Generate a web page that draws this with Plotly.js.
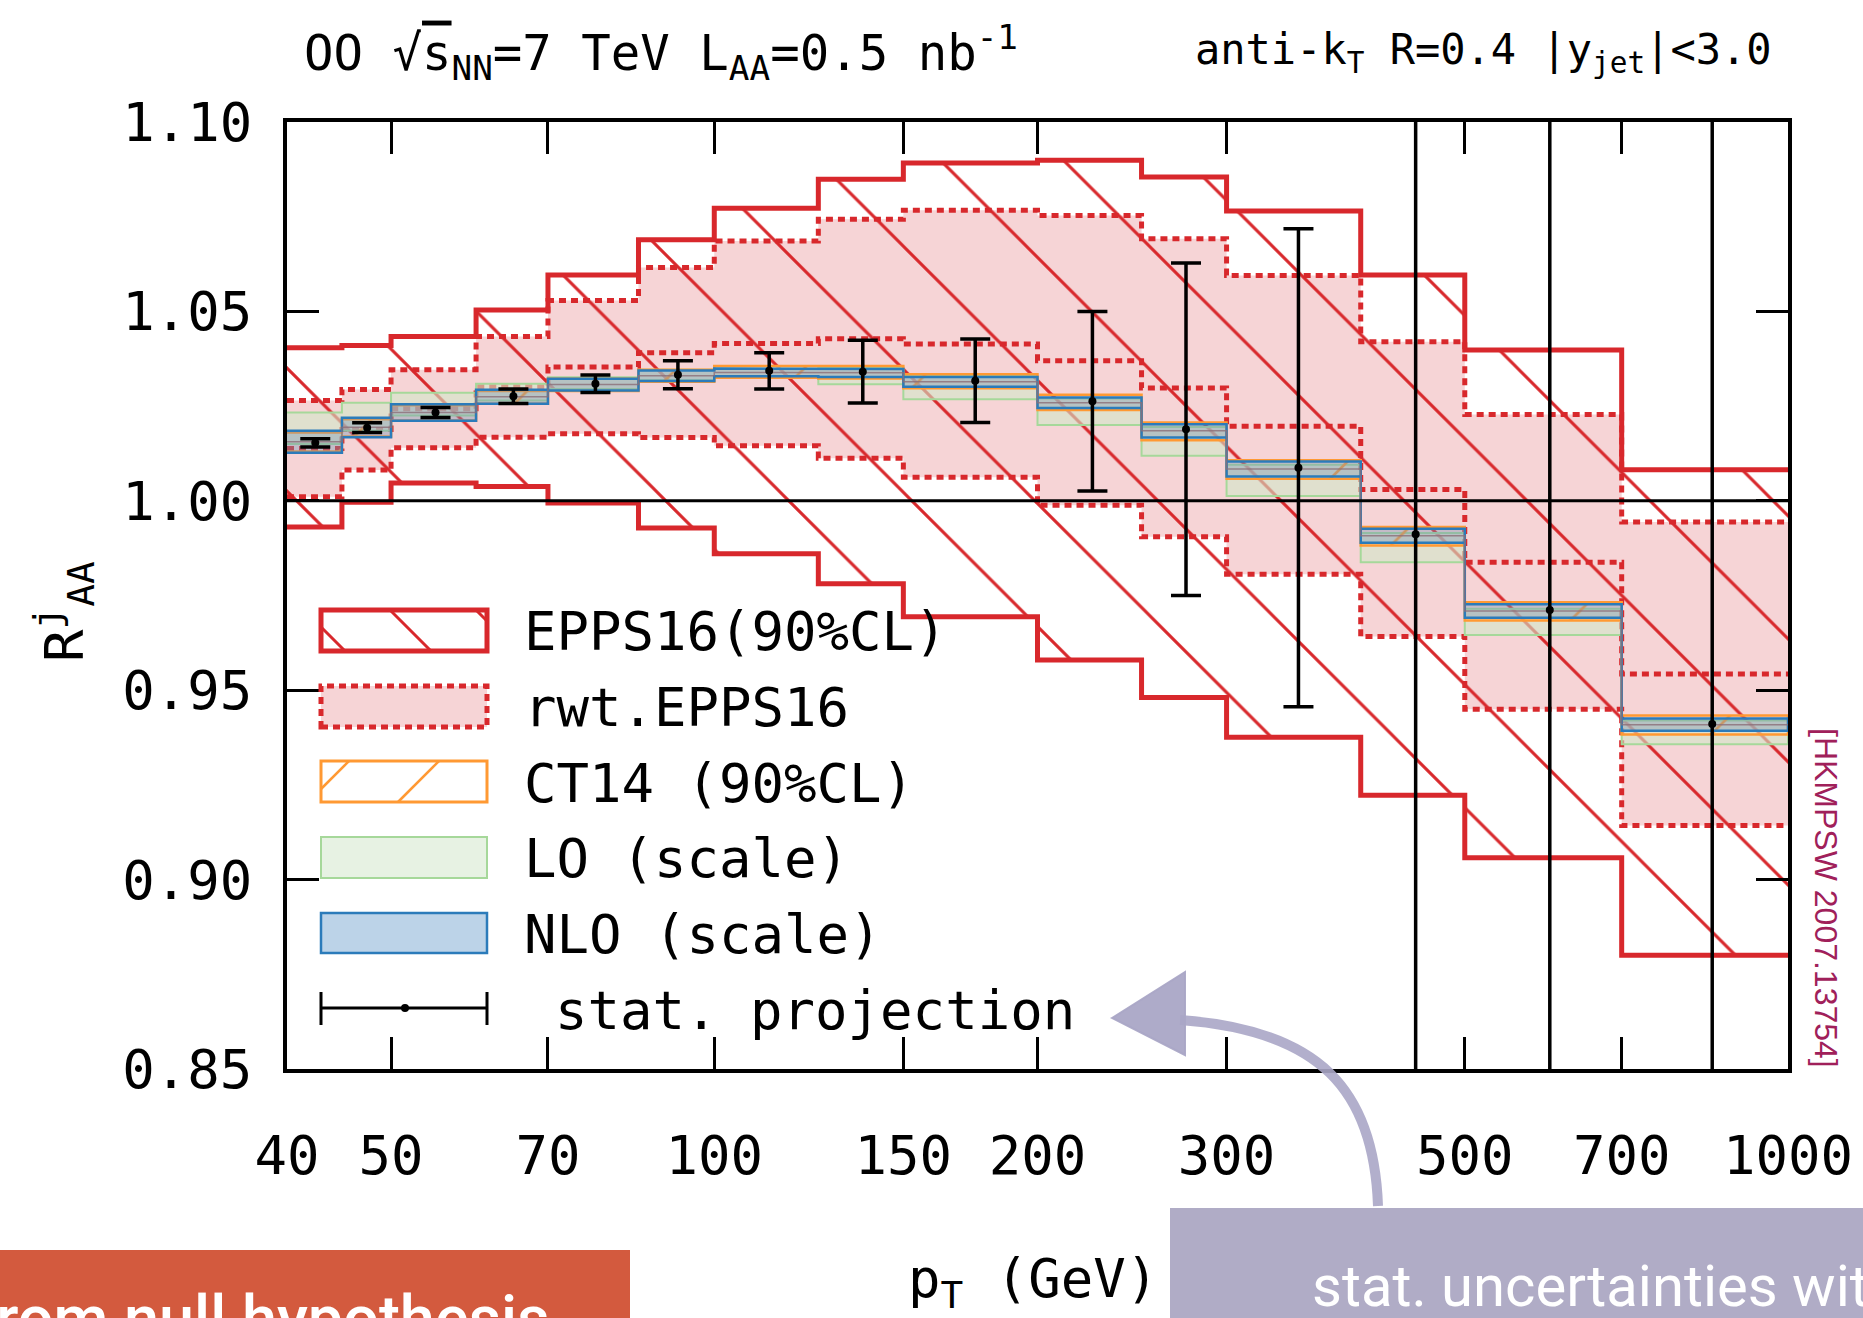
<!DOCTYPE html>
<html><head><meta charset="utf-8">
<script src="https://cdn.plot.ly/plotly-3.0.1.min.js"></script>
<style>html,body{margin:0;padding:0;background:#fff}</style>
</head><body>
<div id="chart" style="width:1863px;height:1318px"></div>
<script>
// ---------------- data ----------------
const binEdges   = [40, 45, 50, 60, 70, 85, 100, 125, 150, 200, 250, 300, 400, 500, 700, 1000];
const binCenters = [42.5, 47.5, 55, 65, 77.5, 92.5, 112.5, 137.5, 175, 225, 275, 350, 450, 600, 850];

const eppsUpper  = [1.0404, 1.0410, 1.0434, 1.0504, 1.0596, 1.0689, 1.0772, 1.0849, 1.0892, 1.0899, 1.0855, 1.0765, 1.0596, 1.0398, 1.0082];
const eppsLower  = [0.9931, 0.9996, 1.0047, 1.0038, 0.9994, 0.9928, 0.9860, 0.9781, 0.9694, 0.9580, 0.9481, 0.9376, 0.9223, 0.9058, 0.8800];

const rwtUpper   = [1.0265, 1.0294, 1.0346, 1.0434, 1.0529, 1.0616, 1.0686, 1.0743, 1.0767, 1.0753, 1.0692, 1.0595, 1.0420, 1.0228, 0.9944];
const rwtCentral = [1.0138, 1.0188, 1.0243, 1.0301, 1.0353, 1.0391, 1.0415, 1.0428, 1.0414, 1.0370, 1.0298, 1.0197, 1.0030, 0.9838, 0.9543];
const rwtLower   = [1.0011, 1.0081, 1.0140, 1.0168, 1.0177, 1.0167, 1.0145, 1.0112, 1.0062, 0.9988, 0.9905, 0.9806, 0.9642, 0.9450, 0.9143];

const loUpper    = [1.0233, 1.0259, 1.0285, 1.0309, 1.0326, 1.0346, 1.0355, 1.0352, 1.0330, 1.0270, 1.0195, 1.0095, 0.9915, 0.9715, 0.9420];
const loLower    = [1.0150, 1.0185, 1.0225, 1.0265, 1.0295, 1.0318, 1.0324, 1.0308, 1.0268, 1.0200, 1.0119, 1.0013, 0.9838, 0.9646, 0.9357];

const ct14Upper  = [1.0180, 1.0215, 1.0252, 1.0290, 1.0322, 1.0346, 1.0356, 1.0356, 1.0334, 1.0280, 1.0207, 1.0107, 0.9931, 0.9732, 0.9433];
const ct14Lower  = [1.0130, 1.0170, 1.0212, 1.0256, 1.0290, 1.0314, 1.0325, 1.0323, 1.0297, 1.0240, 1.0160, 1.0058, 0.9882, 0.9684, 0.9383];

const nloUpper   = [1.0185, 1.0219, 1.0255, 1.0293, 1.0322, 1.0344, 1.0349, 1.0348, 1.0327, 1.0273, 1.0202, 1.0104, 0.9926, 0.9727, 0.9425];
const nloCentral = [1.0156, 1.0194, 1.0233, 1.0275, 1.0307, 1.0330, 1.0339, 1.0338, 1.0314, 1.0259, 1.0185, 1.0084, 0.9908, 0.9709, 0.9409];
const nloLower   = [1.0127, 1.0168, 1.0211, 1.0256, 1.0291, 1.0316, 1.0329, 1.0327, 1.0301, 1.0245, 1.0167, 1.0064, 0.9889, 0.9691, 0.9393];

const statValue  = [1.0153, 1.0193, 1.0233, 1.0276, 1.0309, 1.0333, 1.0343, 1.0341, 1.0317, 1.0263, 1.0189, 1.0087, 0.9912, 0.9712, 0.9411];
const statError  = [0.0011, 0.0013, 0.0013, 0.0019, 0.0023, 0.0037, 0.0048, 0.0083, 0.0110, 0.0237, 0.0439, 0.0631, 0.15, 0.21, 0.30];

const xTickVals  = [40, 50, 70, 100, 150, 200, 300, 500, 700, 1000];
const xTickText  = ['40', '50', '70', '100', '150', '200', '300', '500', '700', '1000'];
const yTickVals  = [0.85, 0.90, 0.95, 1.00, 1.05, 1.10];
const yTickText  = ['0.85', '0.90', '0.95', '1.00', '1.05', '1.10'];

const legendLabels = ['EPPS16(90%CL)', 'rwt.EPPS16', 'CT14 (90%CL)', 'LO (scale)', 'NLO (scale)', 'stat. projection'];

// ---------------- helpers ----------------
function steps(edges, vals) {
  const x = [], y = [];
  vals.forEach((v, i) => { x.push(edges[i], edges[i + 1]); y.push(v, v); });
  return {x, y};
}
function band(edges, up, lo) {
  const u = steps(edges, up), l = steps(edges, lo);
  return {x: u.x.concat(l.x.slice().reverse()), y: u.y.concat(l.y.slice().reverse())};
}

const RED = '#d8282c';
const MONO = 'DejaVu Sans Mono, monospace';
// plot-area pixel frame
const L = 287, R = 1788, T = 122, B = 1069;
const W = 1863, H = 1318;
const px = x => (x - L) / (R - L);
const py = y => (B - y) / (B - T);

const traces = [];
// rwt.EPPS16 fill
const rb = band(binEdges, rwtUpper, rwtLower);
traces.push({type: 'scatter', mode: 'lines', x: rb.x, y: rb.y, fill: 'toself',
  fillcolor: '#f6d4d6', line: {width: 0, color: 'rgba(0,0,0,0)'}, hoverinfo: 'skip', showlegend: false});
// EPPS16 hatch
const eb = band(binEdges, eppsUpper, eppsLower);
traces.push({type: 'scatter', mode: 'lines', x: eb.x, y: eb.y, fill: 'toself',
  fillcolor: 'rgba(0,0,0,0)',
  fillpattern: {shape: '\\', fgcolor: RED, bgcolor: 'rgba(0,0,0,0)', size: 87, solidity: 0.035},
  line: {width: 0, color: 'rgba(0,0,0,0)'}, hoverinfo: 'skip', showlegend: false});
// rwt dotted lines
[rwtUpper, rwtCentral, rwtLower].forEach(v => {
  const s = steps(binEdges, v);
  traces.push({type: 'scatter', mode: 'lines', x: s.x, y: s.y,
    line: {color: RED, width: 5, dash: '7px,5px'}, hoverinfo: 'skip', showlegend: false});
});
// EPPS16 solid boundaries
[eppsUpper, eppsLower].forEach(v => {
  const s = steps(binEdges, v);
  traces.push({type: 'scatter', mode: 'lines', x: s.x, y: s.y,
    line: {color: RED, width: 5}, hoverinfo: 'skip', showlegend: false});
});
// LO band
const lb = band(binEdges, loUpper, loLower);
traces.push({type: 'scatter', mode: 'lines', x: lb.x, y: lb.y, fill: 'toself',
  fillcolor: 'rgba(210,232,200,0.6)', line: {color: '#a6d89a', width: 2}, hoverinfo: 'skip', showlegend: false});
// CT14 band
const cb = band(binEdges, ct14Upper, ct14Lower);
traces.push({type: 'scatter', mode: 'lines', x: cb.x, y: cb.y, fill: 'toself',
  fillcolor: 'rgba(205,150,100,0.35)',
  fillpattern: {shape: '/', fgcolor: '#ff9933', bgcolor: 'rgba(0,0,0,0)', size: 90, solidity: 0.03},
  line: {color: '#ff9933', width: 2.5}, hoverinfo: 'skip', showlegend: false});
// NLO band
const nb = band(binEdges, nloUpper, nloLower);
traces.push({type: 'scatter', mode: 'lines', x: nb.x, y: nb.y, fill: 'toself',
  fillcolor: 'rgba(120,150,180,0.4)', line: {color: '#2b7bba', width: 2.5}, hoverinfo: 'skip', showlegend: false});
const nc = steps(binEdges, nloCentral);
traces.push({type: 'scatter', mode: 'lines', x: nc.x, y: nc.y,
  line: {color: 'rgba(140,110,120,0.8)', width: 1.5}, hoverinfo: 'skip', showlegend: false});
// stat projection
traces.push({type: 'scatter', mode: 'markers', x: binCenters, y: statValue,
  marker: {color: 'black', size: 8},
  error_y: {type: 'data', array: statError, visible: true, color: 'black', thickness: 3.5, width: 15},
  hoverinfo: 'skip', showlegend: false});

// ---------------- shapes ----------------
const shapes = [];
shapes.push({type: 'line', xref: 'paper', yref: 'y', x0: 0, x1: 1, y0: 1, y1: 1,
  line: {color: 'black', width: 3}, layer: 'above'});

function rectPx(x0, y0, x1, y1, opts) {
  return Object.assign({type: 'rect', xref: 'paper', yref: 'paper',
    x0: px(x0), x1: px(x1), y0: py(y1), y1: py(y0), layer: 'above'}, opts);
}
function linePx(x0, y0, x1, y1, line) {
  return {type: 'line', xref: 'paper', yref: 'paper', x0: px(x0), y0: py(y0), x1: px(x1), y1: py(y1), line, layer: 'above'};
}
// legend symbols
const LX0 = 321, LX1 = 487;
shapes.push(rectPx(LX0, 610, LX1, 651, {line: {color: RED, width: 5}, fillcolor: 'rgba(0,0,0,0)'}));
shapes.push(linePx(390, 610, 431, 651, {color: RED, width: 3}));
shapes.push(linePx(321, 627, 345, 651, {color: RED, width: 3}));
shapes.push(linePx(476, 610, 487, 621, {color: RED, width: 3}));
shapes.push(rectPx(LX0, 686, LX1, 727, {line: {color: RED, width: 5, dash: '7px,5px'}, fillcolor: '#f6d4d6'}));
shapes.push(rectPx(LX0, 761, LX1, 802, {line: {color: '#ff9933', width: 3}, fillcolor: 'rgba(0,0,0,0)'}));
shapes.push(linePx(349, 761, 321, 789, {color: '#ff9933', width: 2.5}));
shapes.push(linePx(439, 761, 398, 802, {color: '#ff9933', width: 2.5}));
shapes.push(rectPx(LX0, 837, LX1, 878, {line: {color: '#a6d89a', width: 2}, fillcolor: '#e7f2e3'}));
shapes.push(rectPx(LX0, 913, LX1, 953, {line: {color: '#2b7bba', width: 2.5}, fillcolor: '#bcd3e8'}));
shapes.push(linePx(LX0, 1008, LX1, 1008, {color: 'black', width: 3}));
shapes.push(linePx(LX0, 992, LX0, 1025, {color: 'black', width: 3}));
shapes.push(linePx(LX1, 992, LX1, 1025, {color: 'black', width: 3}));
shapes.push({type: 'circle', xref: 'paper', yref: 'paper', x0: px(401), x1: px(409), y0: py(1012), y1: py(1004),
  fillcolor: 'black', line: {width: 0}, layer: 'above'});

// slide overlays
shapes.push(rectPx(-5, 1250, 630, H + 5, {fillcolor: '#d35a3e', line: {width: 0}}));
shapes.push(rectPx(1170, 1208, W + 5, H + 5, {fillcolor: '#b0acc6', line: {width: 0}}));
const arrowPath = `M ${px(1378)},${py(1206)} C ${px(1374)},${py(1090)} ${px(1320)},${py(1030)} ${px(1180)},${py(1020)}`;
shapes.push({type: 'path', xref: 'paper', yref: 'paper', path: arrowPath,
  line: {color: 'rgba(170,166,198,0.9)', width: 10}, layer: 'above'});
const headPath = `M ${px(1112)},${py(1018)} L ${px(1185)},${py(972)} L ${px(1185)},${py(1055)} Z`;
shapes.push({type: 'path', xref: 'paper', yref: 'paper', path: headPath,
  fillcolor: 'rgba(170,166,198,0.95)', line: {color: 'rgba(170,166,198,0.95)', width: 2}, layer: 'above'});

// ---------------- annotations ----------------
const annotations = [];
function annPx(x, y, text, opts) {
  return Object.assign({xref: 'paper', yref: 'paper', x: px(x), y: py(y), text, showarrow: false,
    xanchor: 'left', yanchor: 'middle', font: {family: MONO, size: 54, color: 'black'}}, opts);
}
annotations.push(annPx(302, 52, 'OO √<span style="text-decoration:overline">s</span><sub>NN</sub>=7 TeV L<sub>AA</sub>=0.5 nb<sup>-1</sup>',
  {font: {family: MONO, size: 49, color: 'black'}}));
annotations.push(annPx(1774, 52, 'anti-k<sub>T</sub> R=0.4 |y<sub>jet</sub>|&lt;3.0',
  {xanchor: 'right', font: {family: MONO, size: 42, color: 'black'}}));
annotations.push(annPx(64, 612, 'R<sup>j</sup><sub>AA</sub>', {xanchor: 'center', textangle: -90}));
annotations.push(annPx(1033, 1282, 'p<sub>T</sub> (GeV)', {xanchor: 'center'}));
annotations.push(annPx(1826, 898, '[HKMPSW 2007.13754]',
  {xanchor: 'center', textangle: 90, font: {family: 'Liberation Sans, Arial, sans-serif', size: 32, color: '#a0205a'}}));
const legendY = [631, 707, 783, 858, 934, 1010];
legendLabels.forEach((t, i) => {
  annotations.push(annPx(i === 5 ? 553 : 522, legendY[i], t));
});
annotations.push(annPx(552, 1280, 'from null hypothesis',
  {xanchor: 'right', yanchor: 'top', font: {family: 'Roboto, sans-serif', size: 63, color: 'white', weight: 500}}));
annotations.push(annPx(1310, 1250, 'stat. uncertainties with',
  {xanchor: 'left', yanchor: 'top', font: {family: 'Roboto, sans-serif', size: 58, color: 'white'}}));

const axisCommon = {
  ticks: 'inside', ticklen: 32, tickwidth: 3, tickcolor: 'black',
  showline: true, linewidth: 4, linecolor: 'black', mirror: 'ticks',
  showgrid: false, zeroline: false,
  tickfont: {family: MONO, size: 54, color: 'black'}
};

const layout = {
  width: W, height: H,
  margin: {l: L, r: W - R, t: T, b: H - B, pad: 0},
  paper_bgcolor: 'white', plot_bgcolor: 'white',
  showlegend: false,
  xaxis: Object.assign({}, axisCommon, {type: 'log', range: [Math.log10(40), Math.log10(1000)],
    tickmode: 'array', tickvals: xTickVals, ticktext: xTickText, ticklabelstandoff: 36}),
  yaxis: Object.assign({}, axisCommon, {range: [0.85, 1.10],
    tickmode: 'array', tickvals: yTickVals, ticktext: yTickText, ticklabelstandoff: 20}),
  shapes, annotations
};

Plotly.newPlot('chart', traces, layout, {displayModeBar: false, staticPlot: true});
</script>
</body></html>
